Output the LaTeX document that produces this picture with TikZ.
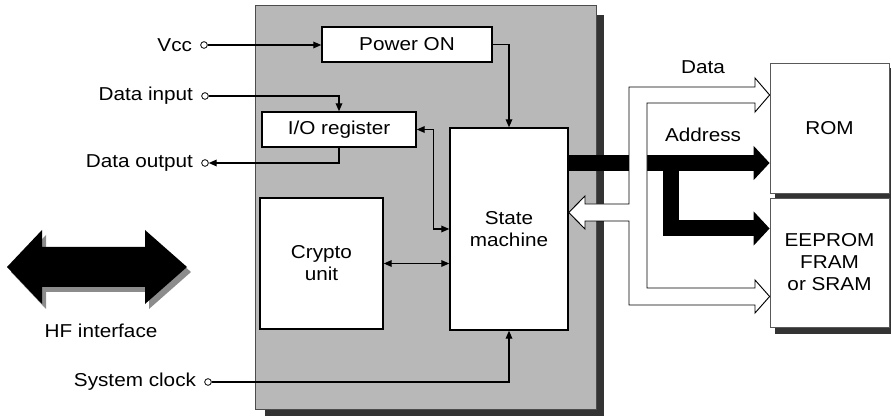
\documentclass[tikz,border=0pt]{standalone}
\usepackage{fontspec}
\setmainfont[FakeStretch=1.11]{Liberation Sans}
\usetikzlibrary{arrows.meta, positioning}

\begin{document}
\begin{tikzpicture}[
    x=0.75pt, y=-0.75pt,
    font=\fontsize{14}{16.5}\selectfont,
    sz/.style 2 args={minimum width=#1*0.75pt, minimum height=#2*0.75pt},
    blk/.style={draw, fill=white, line width=1.1pt, inner sep=0pt, align=center},
    memblk/.style={blk, draw=black!65, line width=0.6pt},
    term/.style={circle, draw, fill=white, line width=0.6pt, minimum size=5pt, inner sep=0pt},
    lbl/.style={inner sep=1pt},
    sig/.style={line width=0.9pt, -{Triangle[length=6pt,width=5pt]}},
    bisig/.style={line width=0.9pt, {Triangle[length=6pt,width=5pt]}-{Triangle[length=6pt,width=5pt]}},
    abus/.style={line width=12pt, line join=miter, -{Triangle[length=12pt,width=25pt]}},
    dbus/.style={draw, fill=white, line width=0.7pt, line join=miter},
    chipbg/.style={fill=black!28, draw=black!70, line width=0.6pt},
    shade/.style={fill=black!80}
]
\useasboundingbox (0,0) rectangle (891,416);

% chip
\fill[shade] (265,15) rectangle (604,416);
\draw[chipbg] (255,5) rectangle (596,409);

\node[blk, sz={170}{35}] (pwr) at (407,44.5) {Power ON};
\node[blk, sz={154}{35}] (io) at (339,129.5) {I/O register};
\node[blk, sz={123}{131}] (crypto) at (321.5,263.5) {Crypto\\unit};
\node[blk, sz={118}{202}] (sm) at (509,229) {State\\machine};

% memories
\fill[shade] (775,68) rectangle (891,334);
\node[memblk, sz={119}{130}] (rom) at (829.5,128) {ROM};
\node[memblk, sz={119}{129}] (eep) at (829.5,262.5) {EEPROM\\FRAM\\or SRAM};

% pins
\node[term] (vcc) at (204,45) {};
\node[lbl, left=5pt of vcc] {Vcc};
\node[term] (din) at (205,96) {};
\node[lbl, left=5pt of din] {Data input};
\node[term] (dout) at (205,163) {};
\node[lbl, left=5pt of dout] {Data output};
\node[term] (clk) at (208,382) {};
\node[lbl, left=5pt of clk] {System clock};

\draw[sig] (vcc.east) -- (vcc.east -| pwr.west);
\draw[sig] (din.east) -| (io.north);
\draw[sig] (io.south) |- (dout.east);
\draw[sig] (pwr.east) -| (sm.north);
\draw[bisig] (io.east) -- ++(17,0) |- (sm.west);
\draw[bisig] (crypto.east) -- (crypto.east -| sm.west);
\draw[sig] (clk.east) -| (sm.south);

% HF interface
\foreach \dx/\dy/\col in {4/5/black!45, 0/0/black}
    \fill[\col, shift={(\dx,\dy)}] (7,267) -- (42,230) -- (42,247) -- (145,247) -- (145,230)
        -- (187,267) -- (145,304) -- (145,287) -- (42,287) -- (42,304) -- cycle;
\node (hf) at (101,331) {HF interface};

% address and data bus
\draw[abus] (sm.east |- 0,163) -- (rom.west |- 0,163);
\draw[abus] (671,163) |- (eep.west |- 0,228.5);
\draw[dbus] (rom.west |- 0,95) -- (755,112) -- (755,103) -- (647,103) -- (647,288) -- (755,288)
    -- (755,280) -- (eep.west |- 0,296.5) -- (755,313) -- (755,305) -- (629,305) -- (629,221)
    -- (585,221) -- (585,229) -- (sm.east |- 0,212.5) -- (585,196) -- (585,204) -- (629,204)
    -- (629,87) -- (755,87) -- (755,78) -- cycle;
\node (data) at (703,67) {Data};
\node (addr) at (703,135) {Address};
\end{tikzpicture}
\end{document}
